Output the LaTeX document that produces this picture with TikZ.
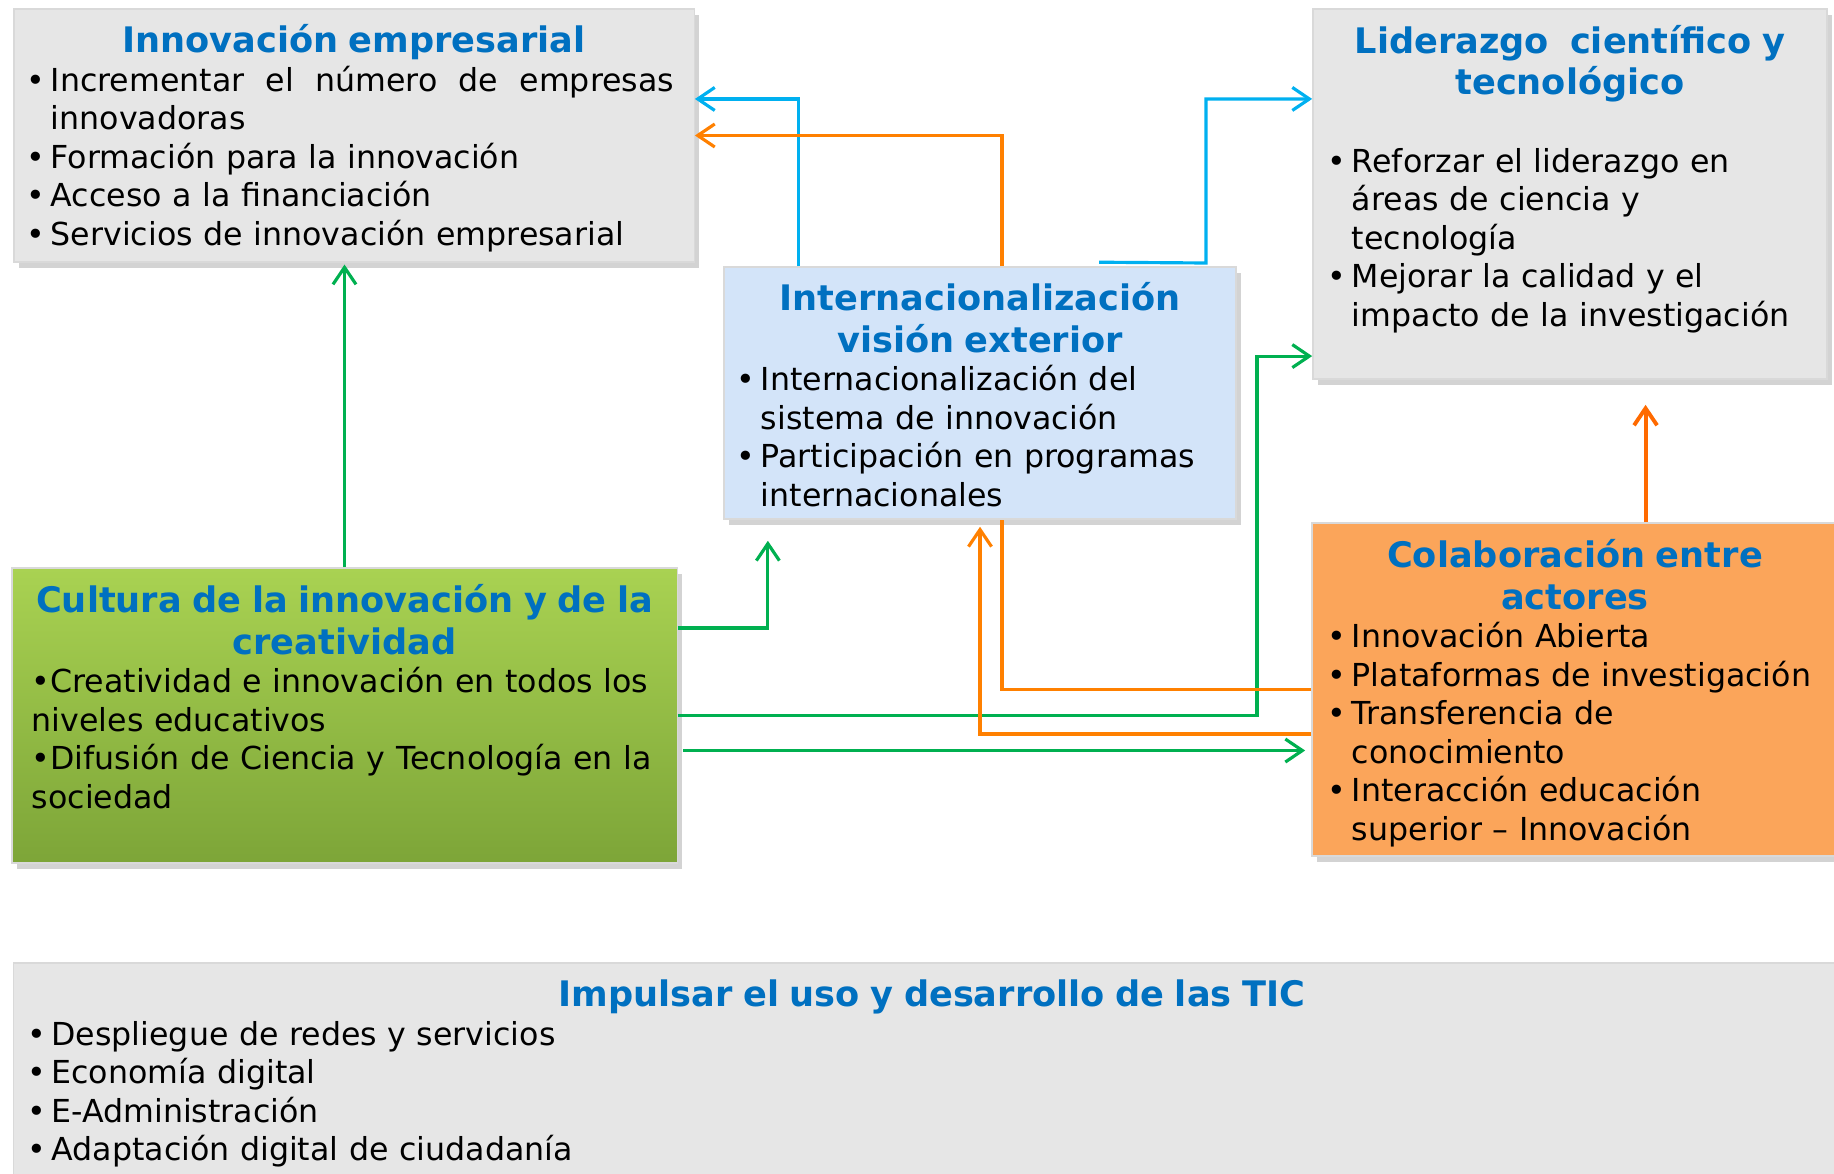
\documentclass[tikz,border=0pt]{standalone}
\usepackage{fontspec}
\setmainfont{DejaVu Sans}
\usepackage{xcolor}
\usepackage{tikz}
\usetikzlibrary{arrows.meta, positioning, shadows}

\definecolor{titreBleu}{HTML}{0070C0}
\definecolor{fondGris}{HTML}{E6E6E6}
\definecolor{fondBleu}{HTML}{D3E4F9}
\definecolor{vertHaut}{HTML}{A9D252}
\definecolor{vertBas}{HTML}{7DA538}
\definecolor{fondOrange}{HTML}{FBA55A}
\definecolor{flecheBleu}{HTML}{00B0F0}
\definecolor{flecheOrange}{HTML}{FF8000}
\definecolor{flecheRouge}{HTML}{FF6A00}
\definecolor{flecheVert}{HTML}{00B050}

\setlength{\parindent}{0pt}
\newlength{\puce}\setlength{\puce}{0.24cm}
\newcommand{\corps}{\fontsize{9}{10.95}\selectfont}
\newcommand{\titre}[1]{{\centering\fontsize{10}{11.8}\selectfont\bfseries\color{titreBleu}#1\par}}
\newcommand{\itm}[1]{\makebox[\puce][l]{•}#1}
\newcommand{\suite}[1]{\hspace*{\puce}#1}

\begin{document}
\begin{tikzpicture}[
        x=0.01cm, y=-0.01cm,
        % Styles des blocs
        boite/.style = {
            rectangle,
            draw=black!15,
            line width=0.4pt,
            inner ysep=0pt,
            font=\corps,
            text=black,
            drop shadow={shadow xshift=0.5mm, shadow yshift=-0.6mm, opacity=0.35}
        },
        gris/.style = {boite, fill=fondGris},
        bleu/.style = {boite, fill=fondBleu},
        vert/.style = {boite, top color=vertHaut, bottom color=vertBas},
        orange/.style = {boite, fill=fondOrange},
        % Styles des flèches
        fleche/.style = {-{Straight Barb[length=1.7mm, width=2.3mm]}, line width=0.9pt},
        fbleu/.style = {fleche, draw=flecheBleu},
        forange/.style = {fleche, draw=flecheOrange},
        frouge/.style = {fleche, draw=flecheRouge, line width=1.1pt},
        fvert/.style = {fleche, draw=flecheVert},
        lorange/.style = {line width=0.9pt, draw=flecheOrange}
    ]
    \useasboundingbox (0,0) rectangle (1834,1173);

    % 1. Placement des blocs
    \node (emp) [gris, text width=6.54cm, inner xsep=0.13cm, minimum height=2.53cm] at (354,135.5) {%
        \titre{Innovación empresarial}
        \itm{\hbox to 6.23cm{Incrementar\hfill el\hfill número\hfill de\hfill empresas}}\\
        \suite{innovadoras}\\
        \itm{Formación para la innovación}\\
        \itm{Acceso a la financiación}\\
        \itm{Servicios de innovación empresarial}\par
        \vspace{-0.05cm}};

    \node (lid) [gris, text width=4.84cm, inner xsep=0.15cm, minimum height=3.70cm] at (1570,194) {%
        \titre{Liderazgo\ \ científico y\\ tecnológico}
        \vspace{10.95pt}
        \itm{Reforzar el liderazgo en}\\
        \suite{áreas de ciencia y}\\
        \suite{tecnología}\\
        \itm{Mejorar la calidad y el}\\
        \suite{impacto de la investigación}\par
        \vspace{0.30cm}};

    \node (intl) [bleu, text width=4.86cm, inner xsep=0.13cm, minimum height=2.52cm] at (980,393) {%
        \titre{Internacionalización\\ visión exterior}
        \itm{Internacionalización del}\\
        \suite{sistema de innovación}\\
        \itm{Participación en programas}\\
        \suite{internacionales}\par
        \vspace{-0.03cm}};

    \node (cult) [vert, text width=6.25cm, inner xsep=0.20cm, minimum height=2.95cm] at (344.5,715.5) {%
        \titre{Cultura de la innovación y de la\\ creatividad}
        \makebox[6.12cm][s]{•Creatividad e innovación en todos los}\\
        niveles educativos\\
        \makebox[6.12cm][s]{•Difusión de Ciencia y Tecnología en la}\\
        sociedad\par
        \vspace{0.38cm}};

    \node (colab) [orange, text width=4.94cm, inner xsep=0.16cm, minimum height=3.33cm] at (1575,689.5) {%
        \titre{Colaboración entre\\ actores}
        \itm{Innovación Abierta}\\
        \itm{Plataformas de investigación}\\
        \itm{Transferencia de}\\
        \suite{conocimiento}\\
        \itm{Interacción educación}\\
        \suite{superior – Innovación}\par
        \vspace{-0.07cm}};

    \node (tic) [gris, text width=18.08cm, inner xsep=0.14cm, minimum height=2.17cm] at (932,1071.5) {%
        \titre{Impulsar el uso y desarrollo de las TIC}
        \itm{Despliegue de redes y servicios}\\
        \itm{Economía digital}\\
        \itm{E-Administración}\\
        \itm{Adaptación digital de ciudadanía}\par
        \vspace{-0.04cm}};

    % 2. Points de coude
    \coordinate (coudeB) at (1206,263);
    \coordinate (coudeV) at (1257,0);
    \coordinate (depV) at ([xshift=0.05cm, yshift=-0.35cm]cult.east);
    \coordinate (depR) at ([xshift=0.705cm]colab.north);

    % 3. Tracé des flèches
    \draw [fvert, shorten >=0.5pt] (cult.north) -- (cult.north |- emp.south);
    \draw [fbleu] ([xshift=-1.81cm]intl.north) |- ([yshift=0.365cm]emp.east);
    \draw [forange] ([xshift=0.22cm]intl.north) |- (emp.east);
    \draw [fbleu] ([xshift=1.19cm, yshift=0.04cm]intl.north) -- (coudeB) |- ([yshift=0.95cm]lid.west);
    \draw [fvert, shorten >=0.21cm] ([yshift=0.875cm]cult.east) -| ([xshift=-2.12cm]intl.south);
    \draw [fvert] (cult.east) -- (cult.east -| coudeV) |- ([yshift=-1.62cm]lid.west);
    \draw [fvert, shorten >=0.06cm] (depV) -- (depV -| colab.west);
    \draw [lorange] (colab.west) -| ([xshift=0.22cm]intl.south);
    \draw [forange, shorten >=0.07cm] ([yshift=-0.445cm]colab.west) -| (intl.south);
    \draw [frouge, shorten >=0.25cm] (depR) -- (depR |- lid.south);

\end{tikzpicture}
\end{document}
